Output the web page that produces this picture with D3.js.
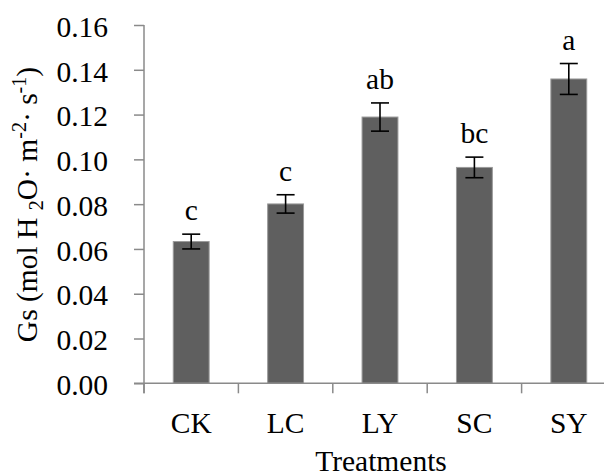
<!DOCTYPE html>
<html>
<head>
<meta charset="utf-8">
<script src="https://cdn.jsdelivr.net/npm/d3@7"></script>
<style>
  html, body { margin: 0; padding: 0; background: #fff; }
  svg { display: block; }
  svg text { font-family: "Liberation Serif", "Times New Roman", serif; }
</style>
</head>
<body>
<svg id="chart" width="604" height="475"></svg>
<script>
// Stomatal conductance by treatment
const treatments = ["CK", "LC", "LY", "SC", "SY"];
const gsMean = [0.0633, 0.0801, 0.1189, 0.0964, 0.1359];
const gsErr = [0.0033, 0.0041, 0.0063, 0.0046, 0.0069];
const groupLetters = ["c", "c", "ab", "bc", "a"];
const yTicks = [0, 0.02, 0.04, 0.06, 0.08, 0.10, 0.12, 0.14, 0.16];

const svg = d3.select("#chart");
const plotLeft = 144, plotRight = 616, plotTop = 25, plotBottom = 383.3;

const x = d3.scaleBand().domain(treatments).range([plotLeft, plotRight]).padding(0);
const y = d3.scaleLinear().domain([0, 0.16]).range([plotBottom, plotTop]);
const barW = x.bandwidth() * 0.38;
const fontSize = 29.5;
const axisColor = "#8a8a8a";

// y axis
const yAxis = svg.append("g")
  .attr("transform", `translate(${plotLeft},0)`)
  .call(d3.axisLeft(y).tickValues(yTicks).tickFormat(d3.format(".2f")).tickSize(10).tickSizeOuter(0))
  .attr("font-family", null).attr("font-size", null);
yAxis.select(".domain").remove();
yAxis.selectAll(".tick line").attr("stroke", axisColor).attr("stroke-width", 1.5);
yAxis.selectAll(".tick text")
  .attr("x", -36).attr("dy", "0.38em")
  .attr("fill", "#000").style("font-size", fontSize + "px");
svg.append("line")
  .attr("x1", plotLeft).attr("x2", plotLeft)
  .attr("y1", y(0.16)).attr("y2", plotBottom + 10)
  .attr("stroke", axisColor).attr("stroke-width", 1.5);

// bars
svg.append("g").selectAll("rect")
  .data(treatments)
  .join("rect")
  .attr("x", d => x(d) + (x.bandwidth() - barW) / 2)
  .attr("width", barW)
  .attr("y", (d, i) => y(gsMean[i]))
  .attr("height", (d, i) => y(0) - y(gsMean[i]))
  .attr("fill", "#5f5f5f")
  .attr("stroke", "#9a9a9a")
  .attr("stroke-width", 1);

// x axis line and category boundary ticks
svg.append("line")
  .attr("x1", plotLeft - 10).attr("x2", plotRight)
  .attr("y1", plotBottom).attr("y2", plotBottom)
  .attr("stroke", axisColor).attr("stroke-width", 1.5);
const bounds = treatments.map(d => x(d)).concat([x.range()[1]]);
svg.append("g").selectAll("line")
  .data(bounds)
  .join("line")
  .attr("x1", d => d).attr("x2", d => d)
  .attr("y1", plotBottom).attr("y2", plotBottom + 10)
  .attr("stroke", axisColor).attr("stroke-width", 1.5);

// category labels
const xAxis = svg.append("g")
  .attr("transform", `translate(0,${plotBottom})`)
  .call(d3.axisBottom(x).tickSize(0))
  .attr("font-family", null).attr("font-size", null);
xAxis.select(".domain").remove();
xAxis.selectAll(".tick text")
  .attr("y", 49.5).attr("dy", 0)
  .attr("fill", "#000").style("font-size", fontSize + "px");

// error bars
const eb = svg.append("g").attr("stroke", "#000").attr("stroke-width", 1.6);
treatments.forEach((d, i) => {
  const cx = x(d) + x.bandwidth() / 2;
  const hi = y(gsMean[i] + gsErr[i]), lo = y(gsMean[i] - gsErr[i]);
  eb.append("line").attr("x1", cx).attr("x2", cx).attr("y1", hi).attr("y2", lo);
  eb.append("line").attr("x1", cx - 9).attr("x2", cx + 9).attr("y1", hi).attr("y2", hi);
  eb.append("line").attr("x1", cx - 9).attr("x2", cx + 9).attr("y1", lo).attr("y2", lo);
});

// significance letters
svg.append("g").selectAll("text")
  .data(treatments)
  .join("text")
  .attr("x", d => x(d) + x.bandwidth() / 2)
  .attr("y", (d, i) => y(gsMean[i] + gsErr[i]) - 14)
  .attr("text-anchor", "middle")
  .style("font-size", fontSize + "px")
  .text((d, i) => groupLetters[i]);

// axis titles
svg.append("text")
  .attr("x", 381).attr("y", 470.5)
  .attr("text-anchor", "middle")
  .style("font-size", fontSize + "px")
  .text("Treatments");

const yTitle = svg.append("text")
  .attr("transform", "translate(37,204.5) rotate(-90)")
  .attr("text-anchor", "middle")
  .style("font-size", fontSize + "px");
yTitle.append("tspan").text("Gs (mol H ");
yTitle.append("tspan").style("font-size", "20px").attr("dy", 6).text("2");
yTitle.append("tspan").attr("dy", -6).text("O· m");
yTitle.append("tspan").style("font-size", "20px").attr("dy", -11).text("-2");
yTitle.append("tspan").attr("dy", 11).text("· s");
yTitle.append("tspan").style("font-size", "20px").attr("dy", -11).text("-1");
yTitle.append("tspan").attr("dy", 11).text(")");
</script>
</body>
</html>
